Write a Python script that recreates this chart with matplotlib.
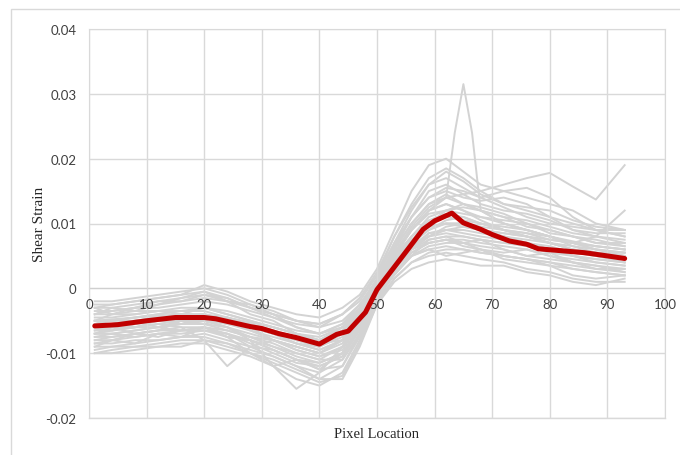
import numpy as np
import matplotlib
matplotlib.use("Agg")
import matplotlib.pyplot as plt
from matplotlib.patches import Rectangle

# pixel positions shared by the grey profiles
pixel = [1, 4, 8, 12, 16, 20, 24, 28, 32, 36, 40, 44, 47, 50, 53, 56, 59, 62, 65, 68, 72, 76, 80, 84, 88, 93]

# individual shear strain profiles (units of 1e-3)
profiles = [
    [-3, -2.5, -2, -1.5, -1, 0.5, -0.5, -2, -3, -4, -4.5, -3, -1, 3, 9, 15, 19, 20, 18, 16, 15, 14, 13, 12, 10, 9],
    [-4, -3.5, -3, -2, -1.5, -1, -1.5, -3, -4, -5, -5.5, -4, -2, 2, 8, 13, 17, 18.5, 17, 15, 13, 12, 11, 10, 9, 8],
    [-5, -5, -4.5, -4, -3.5, -3, -4, -5, -6, -7, -8, -6, -3, 1, 6, 10, 13, 14, 14.5, 15, 16, 17, 17.8, 15.7, 13.7, 19],
    [-6, -6, -5.5, -5, -4.5, -4, -5, -6, -7, -8, -9, -7, -4, 0, 5, 9, 12, 13, 12, 11, 10, 9, 8, 7, 8, 12],
    [-2, -2, -1.5, -1, -0.5, 0, -1, -2.5, -3.5, -5, -6, -4, -1.5, 2, 7, 11, 14, 15, 14, 13.5, 14, 13, 11, 9, 8, 7],
    [-7, -7, -6.5, -6, -5.5, -5, -6, -7, -8, -9, -10, -8.5, -5, 0, 4, 7, 10, 12, 12.5, 12, 10, 9, 8, 7, 6.5, 6],
    [-8, -8, -7.5, -7, -7, -6.5, -7, -8, -9.5, -11, -12.5, -10, -6, -1, 3, 6, 8, 9, 9, 8.5, 8, 7, 6, 5.5, 5, 4],
    [-9, -9, -9, -8.5, -8, -8, -9, -10, -11, -12.5, -14, -12, -7, -1.5, 2, 5, 6, 6.5, 6, 5.5, 5, 4.5, 4, 3, 2.5, 2],
    [-10, -9.5, -9, -9, -8.5, -8.5, -9.5, -10.5, -12, -14, -15, -13, -8, -2, 1.5, 4, 5, 5.5, 5, 4.5, 4, 3, 2.5, 1.5, 1, 1],
    [-6, -6, -6, -5.5, -6, -8, -12, -9, -8, -9, -10, -8, -5, -1, 3, 6, 8, 9.5, 10, 9, 8, 7, 6, 5, 4.5, 4],
    [-5, -5, -4.5, -4, -4.5, -5, -6, -8, -12, -15.5, -13, -9, -5, -0.5, 4, 7, 9, 10, 9.5, 9, 8.5, 8, 7, 6, 5.5, 5],
    [-4.5, -4.5, -4, -3.5, -3, -3, -3.5, -4.5, -5.5, -6.5, -7, -5.5, -3, 0.5, 5, 9, 12, 13, 12, 10.5, 9, 8, 7.5, 7, 6.5, 6],
    [-3.5, -3.5, -3, -3, -2.5, -2, -2.5, -3.5, -4.5, -5.5, -6, -5, -2.5, 1, 6, 10, 13, 14.5, 13, 12, 11, 10.5, 9.5, 8.5, 8, 7.5],
    [-7.5, -7.5, -7, -6.5, -6, -6, -6.5, -7.5, -8.5, -10, -11, -9, -5.5, -0.5, 3, 5.5, 7, 7.5, 7.5, 7, 6.5, 6, 5, 4.5, 4, 3.5],
    [-6.5, -6.5, -6, -5.5, -5, -4.5, -5, -6, -7, -8.5, -9.5, -8, -5, 0, 4, 7, 9, 10.5, 11, 10, 9, 8.5, 8, 7, 6, 5.5],
    [-8.5, -8.5, -8, -8, -7.5, -7, -8, -9, -10.5, -12, -14, -14, -9, -2.5, 1.5, 4, 5.5, 6, 6, 5.5, 5, 4.5, 4, 3.5, 3, 2.5],
    [-5.5, -5, -5, -4.5, -4, -4, -4.5, -5.5, -6.5, -7.5, -8, -6.5, -4, 0, 5, 8, 10, 11, 10.5, 10, 9.5, 9, 8, 6.5, 5.5, 5],
    [-9.5, -9, -8.5, -8, -7.5, -7.5, -8.5, -9.5, -10.5, -12, -13, -11, -7, -1.5, 2.5, 5, 6.5, 7, 7, 6.5, 6, 5, 4.5, 4, 3.5, 3],
    [-2.5, -2.5, -2, -1.5, -1, -0.5, -1.5, -3, -4.5, -6, -7, -5.5, -2.5, 1.5, 7, 12, 16, 17, 15.5, 14, 12.5, 11, 10, 9.5, 9, 8],
    [-7, -6.5, -6, -6, -5.5, -5.5, -6.5, -7.5, -9, -10.5, -11.5, -10, -6, -1, 3, 6, 8.5, 9, 8.5, 8, 7.5, 7, 6, 5, 4.5, 4],
    [-4, -4, -3.5, -3.5, -3.5, -3.5, -4.5, -5.5, -6.5, -8, -9, -7, -4, 0.5, 5.5, 9, 11.5, 12, 11.5, 11, 10.5, 10, 9, 8, 7, 6.5],
    [-8, -7.5, -7, -6.5, -6.5, -6.5, -7, -8.5, -10, -11.5, -12, -10.5, -6.5, -1, 3.5, 6.5, 8, 8.5, 8, 7.5, 7, 6.5, 5.5, 5, 4, 3.5],
    [-6, -5.5, -5, -4.5, -4, -4, -5, -6.5, -7.5, -8.5, -9, -7.5, -4.5, 0, 4.5, 8, 10.5, 11.5, 11, 10, 9, 8, 7, 6.5, 6, 5],
    [-3, -4, -3, -2.5, -1.5, -0.5, -2, -2.5, -4, -6, -7, -6, -3, 1, 6, 11, 14, 15.5, 15, 14, 15, 15.5, 14, 11, 9, 9],
    [-9, -8, -8.5, -7, -7.5, -6, -7, -9, -9.5, -11, -12.5, -12, -7.5, -2, 2.5, 5, 6, 5, 5.5, 6, 4.5, 4, 3.5, 2, 1.5, 2],
    [-5, -6, -5, -6, -5, -5.5, -4.5, -6, -7, -7.5, -8.5, -8, -5, -0.5, 4, 8, 11, 12, 13, 12, 11, 9.5, 9, 8, 7, 7],
    [-7, -6, -7, -6.5, -5, -5.5, -6, -7.5, -8, -9.5, -10.5, -9, -5.5, -1, 2.5, 5, 7.5, 8, 7, 7.5, 6, 5, 5.5, 4, 3, 3],
    [-4, -3, -3.5, -2.5, -2, -1.5, -2, -4, -5, -7, -8, -6.5, -3.5, 1, 6.5, 11, 15, 16, 14.5, 13, 12, 11.5, 10.5, 9, 8.5, 8.5],
    [-8.5, -8, -7, -7.5, -6.5, -6, -7.5, -8, -9, -10, -11, -11, -7, -1.5, 3, 6, 7, 7.5, 6.5, 6, 5.5, 6, 5, 4, 3.5, 2.5],
    [-6, -6.5, -5.5, -5, -5.5, -4.5, -5.5, -6, -8, -9, -10, -8, -4.5, 0, 4, 7.5, 9.5, 10, 10, 9, 8, 7.5, 7, 6, 5, 4.5],
    [-10, -10, -9.5, -9, -9, -8, -8.5, -10, -11.5, -13, -14.5, -13.5, -8.5, -2.5, 1, 3, 4, 4.5, 4, 3.5, 3.5, 2.5, 2, 1, 0.5, 1.5],
    [-5, -4, -4, -3.5, -4, -3, -4, -5, -6, -7, -7.5, -6, -3.5, 0.5, 5.5, 9.5, 12.5, 14, 13, 12.5, 11.5, 10, 8.5, 8, 7.5, 6.5],
    [-7.5, -7, -7.5, -7, -6.5, -6.5, -7.5, -8, -9.5, -11, -12, -10.5, -6, -1, 3, 6, 7.5, 8, 8, 7.5, 7, 7, 6.5, 5.5, 5, 4.5],
    [-3, -3, -2.5, -2, -2, -1, -2, -3, -4, -5, -5.5, -4, -1.5, 2.5, 8, 12.5, 16, 18, 16.5, 14.5, 13, 12.5, 12, 10.5, 9.5, 9],
    [-6.5, -6, -6, -5, -5, -5, -5.5, -6.5, -8, -9.5, -10.5, -9.5, -5.5, -0.5, 3.5, 6.5, 8.5, 9, 9.5, 9, 8.5, 8, 7, 6, 5.5, 5.5],
    [-7, -7, -6.5, -6, -6.5, -6, -7.5, -10, -12, -11, -11.5, -10, -6, -1, 3, 5.5, 7, 7.5, 7, 6, 5, 4.5, 3.5, 3, 2.5, 2],
    [-5.5, -5.5, -5, -4.5, -4.5, -4, -5, -6, -7, -8.5, -9.5, -8, -5, 0, 4.5, 7.5, 9.5, 10, 10, 9.5, 9, 8.5, 7.5, 7, 6, 5.5],
]

# one profile with a sharp spike near pixel 65
spike_pixel = [1, 8, 16, 24, 32, 40, 44, 47, 50, 53, 56, 59, 62, 63.5, 65, 66.5, 68, 72, 80, 88, 93]
spike_strain = [-5, -4.5, -4, -4.5, -6, -8, -6, -3.5, 0.5, 5, 9, 12, 14, 24, 31.5, 24, 12, 10, 8, 6.5, 6]

# average profile (red)
mean_pixel = [1, 5, 10, 15, 20, 22, 25, 28, 30, 33, 36, 40, 43, 45, 48, 50, 55, 58, 60, 63,
              65, 68, 70, 73, 76, 78, 82, 86, 90, 93]
mean_strain = [-5.8, -5.6, -5.0, -4.5, -4.5, -4.7, -5.3, -5.9, -6.2, -7.0, -7.6, -8.6, -7.1, -6.6, -3.7,
               -0.2, 5.6, 9.1, 10.4, 11.6, 10.1, 9.1, 8.3, 7.3, 6.8, 6.1, 5.8, 5.5, 5.0, 4.6]

x_ticks = [0, 10, 20, 30, 40, 50, 60, 70, 80, 90, 100]
y_ticks = [-0.02, -0.01, 0, 0.01, 0.02, 0.03, 0.04]
y_labels = ["-0.02", "-0.01", "0", "0.01", "0.02", "0.03", "0.04"]

grid_col = "#d9d9d9"
fig = plt.figure(figsize=(6.8, 4.56), dpi=100)
ax = fig.add_axes([89 / 680, 37 / 456, 576 / 680, 389 / 456])

# outer chart border
fig.patches.append(Rectangle((11 / 680, -0.1), 1.2, 1 - 10 / 456 + 0.1, transform=fig.transFigure,
                             fill=False, edgecolor="#d9d9d9", linewidth=1))

for p in profiles:
    ax.plot(pixel, np.array(p) * 1e-3, color="#d3d3d3", linewidth=1.4, zorder=2)
ax.plot(spike_pixel, np.array(spike_strain) * 1e-3, color="#d3d3d3", linewidth=1.4, zorder=2)
ax.plot(mean_pixel, np.array(mean_strain) * 1e-3, color="#c00000", linewidth=3.6, zorder=5,
        solid_capstyle="round")

ax.set_xlim(0, 100)
ax.set_ylim(-0.02, 0.04)
ax.set_xticks(x_ticks)
ax.set_yticks(y_ticks)
ax.set_yticklabels(y_labels)
ax.grid(True, color=grid_col, linewidth=1)
ax.set_axisbelow(True)
# x tick labels sit on the zero line, above the grey curves
ax.xaxis.set_zorder(4)

for s in ["top", "left", "right"]:
    ax.spines[s].set_color(grid_col)
ax.spines["bottom"].set_position(("data", 0))
ax.spines["bottom"].set_color("#cfcfcf")
ax.spines["bottom"].set_zorder(1)
ax.axhline(-0.02, color=grid_col, linewidth=1, clip_on=False, zorder=0)

ax.tick_params(axis="both", length=0, labelsize=9.5, labelcolor="#404040")
ax.tick_params(axis="x", pad=7)
ax.tick_params(axis="y", pad=9)
for lab in ax.get_xticklabels() + ax.get_yticklabels():
    lab.set_family("Lato")

ax.set_xlabel("Pixel Location", family="Liberation Serif", fontsize=10.5, color="#262626")
ax.set_ylabel("Shear Strain", family="Liberation Serif", fontsize=11, color="#262626")
ax.xaxis.set_label_coords(0.5, -0.022)
ax.yaxis.set_label_coords(-0.075, 0.5)

fig.savefig("out.png", dpi=100)
